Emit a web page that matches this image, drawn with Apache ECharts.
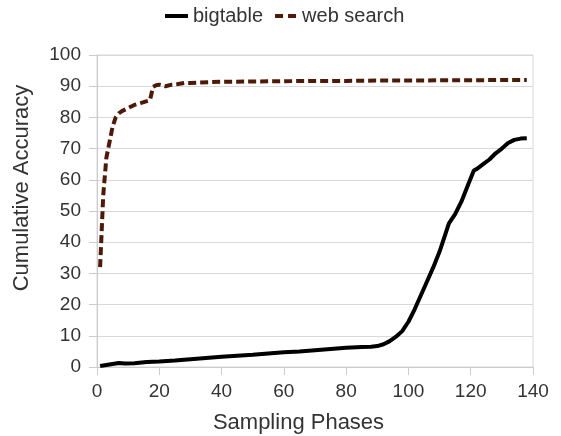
<!DOCTYPE html>
<html><head><meta charset="utf-8">
<script src="https://cdn.jsdelivr.net/npm/echarts@6/dist/echarts.min.js"></script>
<style>html,body{margin:0;padding:0;background:#fff}#c{width:561px;height:436px}</style>
</head><body><div id="c"></div>
<script>
var seriesNames = ['bigtable', 'web search'];
var bigtablePhases = [1,4,7,9,12,16,20,25,30,35,40,45,50,55,60,65,70,75,80,85,88,90,92,94,96,98,100,102,104,106,108,110,112,113,115,117,119,121,122,124,126,128,130,132,134,136,138];
var bigtableValues = [0.3,0.8,1.3,1.1,1.2,1.6,1.8,2.1,2.5,2.9,3.3,3.6,3.9,4.3,4.7,5.0,5.4,5.8,6.2,6.4,6.5,6.7,7.3,8.3,9.7,11.5,14.5,18.5,23,27.5,32,37,43,46,49,53,58,63,63.5,65,66.5,68.5,70,71.8,72.8,73.2,73.3];
var webPhases = [1,2,3,4,5,6,7,8,10,12,14,16,17,18,19,20,22,24,26,28,30,33,36,40,50,60,70,80,90,100,110,120,130,138];
var webValues = [32,55,67,72,77,80,81.3,82,83,84,84.6,85.2,85.5,89.8,90.3,90.5,90,90.5,90.7,91,91,91.2,91.3,91.4,91.5,91.6,91.7,91.7,91.8,91.8,91.9,91.9,92,92];
var xTitle = 'Sampling Phases';
var yTitle = 'Cumulative Accuracy';

function pairs(xs, ys){ return xs.map(function(x,i){ return [x, ys[i]]; }); }
var font = '"Liberation Sans", Arial, sans-serif';
var chart = echarts.init(document.getElementById('c'), null, {renderer:'canvas'});
chart.setOption({
  animation:false,
  textStyle:{fontFamily:font},
  legend:{
    top:1, left:160, itemWidth:23, itemHeight:4, itemGap:12,
    textStyle:{fontSize:20, color:'#333', fontFamily:font},
    data:[
      {name:seriesNames[0], icon:'rect', itemStyle:{color:'#000', borderWidth:0}, lineStyle:{width:0}},
      {name:seriesNames[1], icon:'path://M0,0h8v4h-8z M13,0h8v4h-8z', itemStyle:{color:'#4d1a08', borderWidth:0}, lineStyle:{width:0}}
    ]
  },
  grid:{left:97, right:28, top:55, bottom:69, show:true, borderColor:'#d9d9d9', borderWidth:1},
  xAxis:{
    type:'value', min:0, max:140, interval:20,
    axisLine:{show:true, lineStyle:{color:'#cccccc'}},
    axisTick:{show:true, length:8, lineStyle:{color:'#cccccc'}},
    axisLabel:{fontSize:19, color:'#333', margin:15, fontFamily:font},
    splitLine:{show:false}
  },
  yAxis:{
    type:'value', min:0, max:100, interval:10,
    axisLine:{show:true, lineStyle:{color:'#cccccc'}},
    axisTick:{show:true, length:8, lineStyle:{color:'#cccccc'}},
    axisLabel:{fontSize:19, color:'#333', margin:16, fontFamily:font},
    splitLine:{show:true, lineStyle:{color:'#d9d9d9', width:1}}
  },
  graphic:[
    {type:'text', x:298.5, y:423, style:{text:xTitle, fontSize:22, fill:'#333', fontFamily:font, align:'center', verticalAlign:'middle'}},
    {type:'text', x:22, y:188, rotation:Math.PI/2, style:{text:yTitle, fontSize:22, fill:'#333', fontFamily:font, align:'center', verticalAlign:'middle'}}
  ],
  series:[
    {name:seriesNames[0], type:'line', data:pairs(bigtablePhases,bigtableValues), showSymbol:false, symbol:'none',
     lineStyle:{color:'#000', width:4}, itemStyle:{color:'#000'}},
    {name:seriesNames[1], type:'line', data:pairs(webPhases,webValues), showSymbol:false, symbol:'none',
     lineStyle:{color:'#4d1a08', width:4, type:[8,4]}, itemStyle:{color:'#4d1a08'}}
  ]
});
</script></body></html>
